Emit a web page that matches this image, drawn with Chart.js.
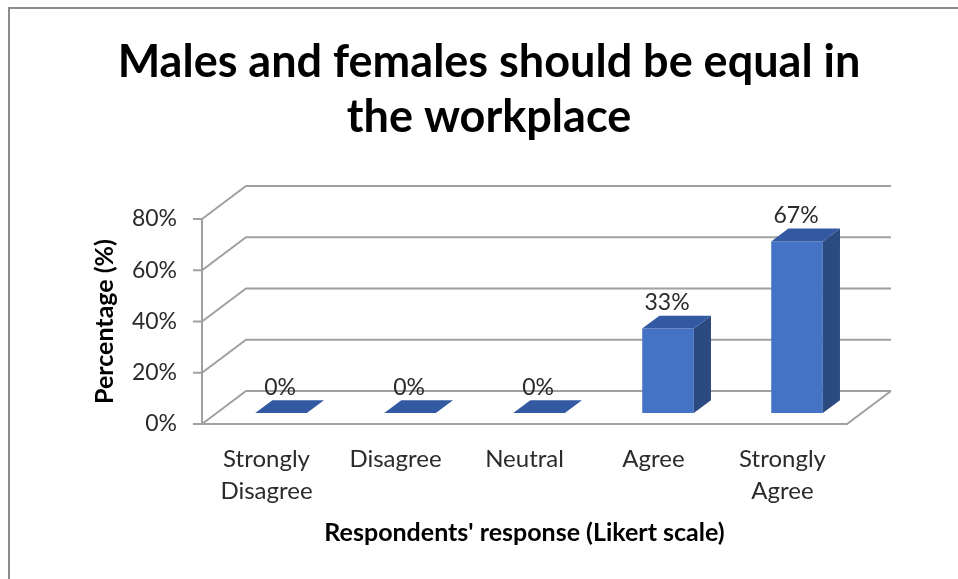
<!DOCTYPE html>
<html>
<head>
<meta charset="utf-8">
<title>Males and females should be equal in the workplace</title>
<script src="https://cdn.jsdelivr.net/npm/chart.js@4.4.1/dist/chart.umd.min.js"></script>
<style>
  html, body { margin: 0; padding: 0; background: #fff; }
  #wrap { width: 958px; height: 579px; }
</style>
</head>
<body>
<div id="wrap"><canvas id="myChart" width="958" height="579"></canvas></div>
<script>
// responses
const categories = [['Strongly', 'Disagree'], 'Disagree', 'Neutral', 'Agree', ['Strongly', 'Agree']];
const percentages = [0, 0, 0, 33, 67];
const yTicks = [0, 20, 40, 60, 80];

// 3D look: offset of the back wall and where the bars sit in depth
const DX = 44, DY = -33;
const BAR_Z = 0.33;   // front face of the bars
const BAR_D = 0.39;   // bar depth

const FRONT = '#4472C4', TOP = '#3259a2', SIDE = '#2b4a80';
const GRID = '#a0a0a0';
const TEXT = '#2b2b2b';

Chart.defaults.font.family = 'Lato, "Open Sans", sans-serif';

const frame = {
    id: 'frame',
    beforeDraw(chart) {
        const ctx = chart.ctx;
        ctx.save();
        ctx.fillStyle = '#fff';
        ctx.fillRect(0, 0, chart.width, chart.height);
        ctx.strokeStyle = '#8c8c8c';
        ctx.lineWidth = 2;
        ctx.beginPath();
        ctx.moveTo(9, chart.height);
        ctx.lineTo(9, 8);
        ctx.lineTo(chart.width, 8);
        ctx.stroke();
        ctx.restore();
    }
};

const box3d = {
    id: 'box3d',
    beforeDatasetsDraw(chart) {
        const ctx = chart.ctx;
        const { left, right, top, bottom } = chart.chartArea;
        const y = chart.scales.y;
        ctx.save();
        ctx.strokeStyle = GRID;
        ctx.lineWidth = 2;
        ctx.beginPath();
        yTicks.forEach(v => {
            const py = y.getPixelForValue(v);
            // tick mark, side wall and back wall
            ctx.moveTo(left - 9, py);
            ctx.lineTo(left, py);
            ctx.lineTo(left + DX, py + DY);
            ctx.lineTo(right + DX, py + DY);
        });
        // front axis
        ctx.moveTo(left, top);
        ctx.lineTo(left, bottom);
        // floor edge
        const y0 = y.getPixelForValue(0);
        ctx.moveTo(left, y0);
        ctx.lineTo(right, y0);
        ctx.lineTo(right + DX, y0 + DY);
        ctx.stroke();
        ctx.restore();

        ctx.save();
        ctx.translate(DX * BAR_Z, DY * BAR_Z);
    },
    afterDatasetsDraw(chart) {
        const ctx = chart.ctx;
        ctx.restore();
        const ox = DX * BAR_Z, oy = DY * BAR_Z;
        const dx = DX * BAR_D, dy = DY * BAR_D;
        const meta = chart.getDatasetMeta(0);
        ctx.save();
        meta.data.forEach((bar, i) => {
            const p = bar.getProps(['x', 'y', 'base', 'width'], true);
            const l = p.x - p.width / 2 + ox, r = p.x + p.width / 2 + ox;
            const t = p.y + oy, b = p.base + oy;
            // side face
            if (b - t > 0.5) {
                ctx.fillStyle = SIDE;
                ctx.beginPath();
                ctx.moveTo(r, t);
                ctx.lineTo(r + dx, t + dy);
                ctx.lineTo(r + dx, b + dy);
                ctx.lineTo(r, b);
                ctx.closePath();
                ctx.fill();
            }
            // top face
            ctx.fillStyle = TOP;
            ctx.beginPath();
            ctx.moveTo(l, t);
            ctx.lineTo(r, t);
            ctx.lineTo(r + dx, t + dy);
            ctx.lineTo(l + dx, t + dy);
            ctx.closePath();
            ctx.fill();

            // value label
            ctx.fillStyle = TEXT;
            ctx.font = '23px Lato, "Open Sans", sans-serif';
            ctx.textAlign = 'center';
            ctx.textBaseline = 'middle';
            ctx.fillText(percentages[i] + '%', p.x + ox - 1, t + dy - 13);
        });
        ctx.restore();
    }
};

const ctx = document.getElementById('myChart').getContext('2d');
const myChart = new Chart(ctx, {
    type: 'bar',
    data: {
        labels: categories,
        datasets: [{
            data: percentages,
            backgroundColor: FRONT,
            borderWidth: 0,
            barPercentage: 0.4,
            categoryPercentage: 1.0,
            yAxisID: 'y'
        }]
    },
    options: {
        responsive: false,
        animation: false,
        events: [],
        layout: { padding: { left: 20, right: 0, top: 0, bottom: 0 } },
        plugins: {
            legend: { display: false },
            tooltip: { enabled: false },
            title: {
                display: true,
                text: ['Males and females should be equal in', 'the workplace'],
                color: '#000',
                font: { size: 45, weight: 'bold', lineHeight: 1.244 },
                padding: { top: 34, bottom: 73 }
            }
        },
        scales: {
            x: {
                grid: { display: false, drawTicks: false },
                border: { display: false },
                ticks: {
                    color: TEXT,
                    font: { size: 24, lineHeight: 1.3 },
                    padding: 20,
                    maxRotation: 0,
                    autoSkip: false
                },
                title: {
                    display: true,
                    text: "Respondents' response (Likert scale)",
                    color: '#000',
                    font: { size: 25, weight: 'bold', lineHeight: 1.2 },
                    padding: { top: 0, bottom: 31 }
                },
                afterFit(scale) { scale.height = 155; }
            },
            y: {
                min: 0,
                max: 80,
                grid: { display: false, drawTicks: false },
                border: { display: false },
                ticks: {
                    stepSize: 20,
                    color: TEXT,
                    font: { size: 23 },
                    padding: 25,
                    callback: v => v + '%'
                },
                title: {
                    display: true,
                    text: 'Percentage (%)',
                    color: '#000',
                    font: { size: 25, weight: 'bold', lineHeight: 1.2 },
                    padding: { top: 70, bottom: 0 }
                },
                afterFit(scale) { scale.width = 182; }
            },
            // keeps room on the right for the back wall
            y2: {
                position: 'right',
                min: 0,
                max: 1,
                grid: { display: false, drawTicks: false },
                border: { display: false },
                ticks: { display: false },
                afterFit(scale) { scale.width = 111; }
            }
        }
    },
    plugins: [frame, box3d]
});
</script>
</body>
</html>
